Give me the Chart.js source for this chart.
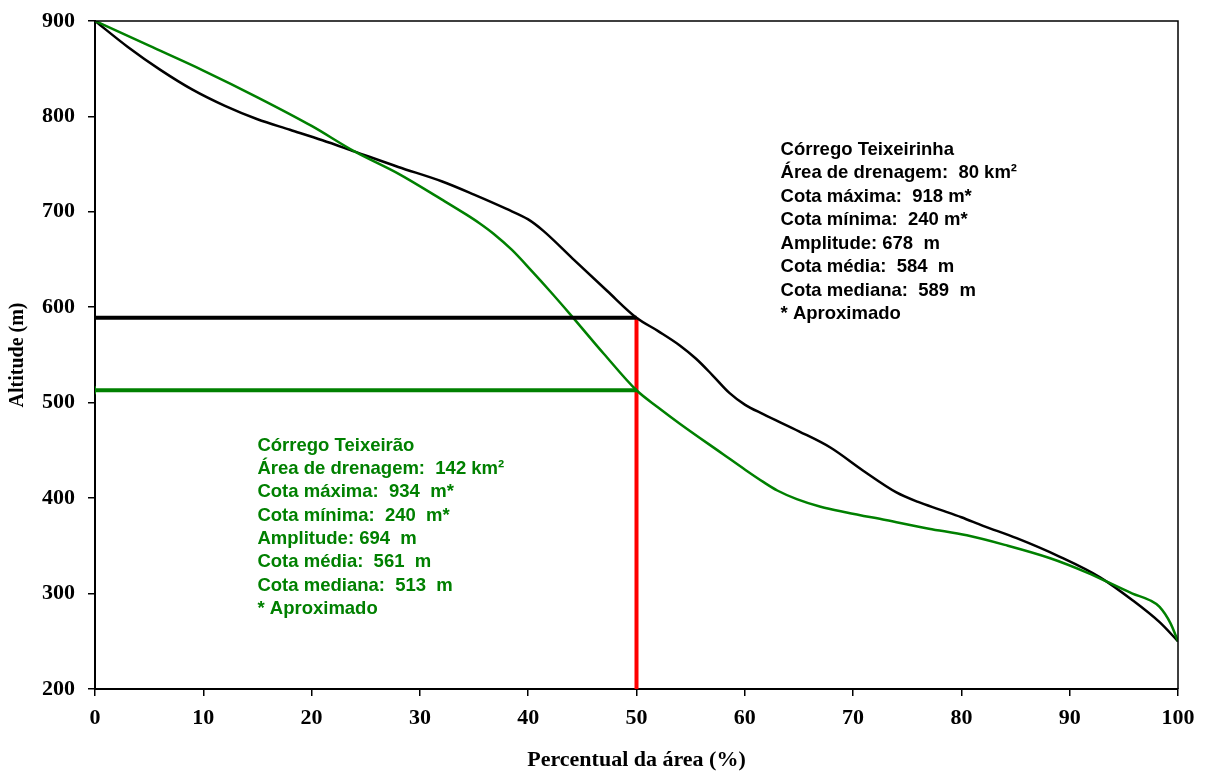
<!DOCTYPE html>
<html>
<head>
<meta charset="utf-8">
<script src="https://cdn.jsdelivr.net/npm/chart.js@4/dist/chart.umd.min.js"></script>
<style>
  body { margin: 0; background: #fff; }
  #wrap { width: 1207px; height: 774px; }
</style>
</head>
<body>
<div id="wrap"><canvas id="curva" width="1207" height="774"></canvas></div>
<script>
// Corrego Teixeirinha: percentual da area (%) e altitude (m)
var pctTeixeirinha = [0, 3, 6, 9, 12, 15, 18, 21, 24, 28, 32, 35, 38, 40, 41.4, 44.1, 47.3, 50, 52, 54, 55.5, 57, 58.6, 60, 61.7, 65, 67.9, 70.9, 74, 76, 78, 80, 82, 85.1, 89, 92.8, 95.8, 98.3, 100];
var altTeixeirinha = [900, 873, 849, 828, 811, 797, 786, 775, 763, 747, 732, 718, 703, 692, 680, 651, 617, 589, 575, 560, 546, 529, 510, 498, 488, 470, 453, 429, 406, 396, 388, 380, 371, 358, 339, 317, 293, 270, 250];
// Corrego Teixeirao: percentual da area (%) e altitude (m)
var pctTeixeirao = [0, 5, 10, 15, 20, 24, 28, 32, 34.3, 35.5, 36.8, 38.5, 40.4, 42, 44, 47, 50, 52, 54, 58, 60, 61.7, 63, 64.8, 67, 69.4, 73, 77, 80.5, 84, 88.2, 91.6, 95.8, 97.4, 98.3, 99.3, 100];
var altTeixeirao = [900, 874, 848, 820, 790, 763, 740, 713, 697, 688, 677, 660, 637, 617, 591, 551, 513, 495, 478, 446, 430, 417, 408, 399, 391, 385, 377, 368, 361, 351, 337, 322, 300, 293, 286, 269, 250];

var medianaTeixeirinha = 589;
var medianaTeixeirao = 513;
var metade = 50;

var xTicks = [0, 10, 20, 30, 40, 50, 60, 70, 80, 90, 100];
var yTicks = [200, 300, 400, 500, 600, 700, 800, 900];

var textoTeixeirinha = ["Córrego Teixeirinha", "Área de drenagem:  80 km²", "Cota máxima:  918 m*", "Cota mínima:  240 m*", "Amplitude: 678  m", "Cota média:  584  m", "Cota mediana:  589  m", "* Aproximado"];
var textoTeixeirao = ["Córrego Teixeirão", "Área de drenagem:  142 km²", "Cota máxima:  934  m*", "Cota mínima:  240  m*", "Amplitude: 694  m", "Cota média:  561  m", "Cota mediana:  513  m", "* Aproximado"];

var verde = '#008000';

function pts(xs, ys) {
  return xs.map(function (x, i) { return { x: x, y: ys[i] }; });
}

var frame = {
  id: 'frame',
  afterDatasetsDraw: function (chart) {
    var c = chart.ctx, a = chart.chartArea;
    c.save();
    c.strokeStyle = '#000';
    c.lineWidth = 1.5;
    c.beginPath();
    c.moveTo(a.left, a.top);
    c.lineTo(a.right, a.top);
    c.lineTo(a.right, a.bottom);
    c.stroke();

    var xs = chart.scales.x, ys = chart.scales.y;
    c.font = 'bold 18.5px "Liberation Sans", Arial, sans-serif';
    c.textBaseline = 'middle';
    c.textAlign = 'left';
    c.fillStyle = '#000';
    var x0 = xs.getPixelForValue(63.3), y0 = ys.getPixelForValue(765);
    textoTeixeirinha.forEach(function (t, i) { c.fillText(t, x0, y0 + i * 23.5); });
    c.fillStyle = verde;
    x0 = xs.getPixelForValue(15); y0 = ys.getPixelForValue(455);
    textoTeixeirao.forEach(function (t, i) { c.fillText(t, x0, y0 + i * 23.3); });
    c.restore();
  }
};

Chart.defaults.font.family = '"Liberation Serif", "Times New Roman", serif';

new Chart(document.getElementById('curva'), {
  type: 'scatter',
  data: {
    datasets: [
      {
        data: pts([0, metade], [medianaTeixeirinha, medianaTeixeirinha]),
        showLine: true, borderColor: '#000', borderWidth: 4,
        pointRadius: [4, 0], pointStyle: 'line', rotation: 90, pointBorderWidth: 2, pointBorderColor: '#000'
      },
      {
        data: pts([0, metade], [medianaTeixeirao, medianaTeixeirao]),
        showLine: true, borderColor: verde, borderWidth: 4,
        pointRadius: [4, 0], pointStyle: 'line', rotation: 90, pointBorderWidth: 2, pointBorderColor: verde
      },
      {
        data: pts(pctTeixeirao, altTeixeirao),
        showLine: true, borderColor: verde, borderWidth: 2.5, pointRadius: 0,
        cubicInterpolationMode: 'monotone'
      },
      {
        data: pts(pctTeixeirinha, altTeixeirinha),
        showLine: true, borderColor: '#000', borderWidth: 2.5, pointRadius: 0,
        cubicInterpolationMode: 'monotone'
      },
      {
        data: pts([metade, metade], [200, medianaTeixeirinha]),
        showLine: true, borderColor: '#ff0000', borderWidth: 4, pointRadius: 0
      }
    ]
  },
  options: {
    responsive: false,
    animation: false,
    layout: { padding: { top: 11, right: 29, left: 0, bottom: 0 } },
    plugins: { legend: { display: false }, tooltip: { enabled: false } },
    scales: {
      x: {
        type: 'linear', min: 0, max: 100,
        afterBuildTicks: function (s) { s.ticks = xTicks.map(function (v) { return { value: v }; }); },
        afterFit: function (s) { s.height = 85; },
        grid: { drawOnChartArea: false, drawTicks: true, tickLength: 7, color: '#000', lineWidth: 1.5 },
        border: { display: true, color: '#000', width: 2 },
        ticks: { color: '#000', font: { size: 22, weight: 'bold' }, padding: 9 },
        title: { display: true, text: 'Percentual da área (%)', color: '#000', font: { size: 22, weight: 'bold' }, padding: 0 }
      },
      y: {
        min: 200, max: 900,
        afterBuildTicks: function (s) { s.ticks = yTicks.map(function (v) { return { value: v }; }); },
        afterFit: function (s) { s.width = 95; },
        grid: { drawOnChartArea: false, drawTicks: true, tickLength: 7, color: '#000', lineWidth: 1.5 },
        border: { display: true, color: '#000', width: 2 },
        ticks: { color: '#000', font: { size: 22, weight: 'bold', lineHeight: 0.72 }, padding: 13 },
        title: { display: true, text: 'Altitude (m)', color: '#000', font: { size: 20, weight: 'bold' }, padding: { top: 6, bottom: 0 } }
      }
    }
  },
  plugins: [frame]
});
</script>
</body>
</html>
